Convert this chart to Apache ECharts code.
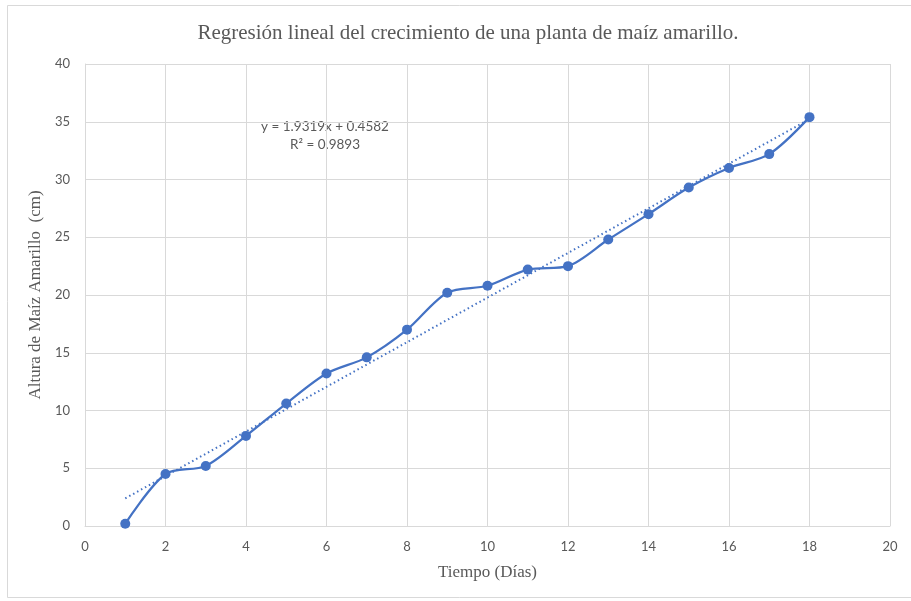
<!DOCTYPE html>
<html>
<head>
<meta charset="utf-8">
<script src="https://cdn.jsdelivr.net/npm/echarts@6/dist/echarts.min.js"></script>
<style>
html,body{margin:0;padding:0;background:#fff;}
#c{width:911px;height:601px;}
</style>
</head>
<body>
<div id="c"></div>
<script>
const dias = [1,2,3,4,5,6,7,8,9,10,11,12,13,14,15,16,17,18];
const altura = [0.2,4.5,5.2,7.8,10.6,13.2,14.6,17.0,20.2,20.8,22.2,22.5,24.8,27.0,29.3,31.0,32.2,35.4];
const trendX = [1,18];
const trendY = [2.39,35.23];
const titleText = 'Regresión lineal del crecimiento de una planta de maíz amarillo.';
const xName = 'Tiempo (Días)';
const yName = 'Altura de Maíz Amarillo  (cm)';
const eqLine1 = 'y = 1.9319x + 0.4582';
const eqLine2 = 'R² = 0.9893';

const chart = echarts.init(document.getElementById('c'));
const gray = '#595959';
const gridColor = '#d9d9d9';
const blue = '#4472C4';
chart.setOption({
  animation:false,
  backgroundColor:'#fff',
  title:{text:titleText,left:463,top:18,textAlign:'center',
    textStyle:{fontFamily:'Liberation Serif',fontSize:21,fontWeight:'normal',color:gray}},
  grid:{left:85,right:21,top:64,bottom:75},
  xAxis:{type:'value',min:0,max:20,interval:2,
    name:xName,nameLocation:'middle',nameGap:38,
    nameTextStyle:{fontFamily:'Liberation Serif',fontSize:17,color:gray},
    axisLine:{show:true,lineStyle:{color:gridColor}},axisTick:{show:false},
    axisLabel:{color:gray,fontFamily:'Lato',fontSize:13,margin:14},
    splitLine:{show:true,lineStyle:{color:gridColor,width:1}}},
  yAxis:{type:'value',min:0,max:40,interval:5,
    name:yName,nameLocation:'middle',nameGap:38,nameRotate:90,
    nameTextStyle:{fontFamily:'Liberation Serif',fontSize:17,color:gray},
    axisLine:{show:true,lineStyle:{color:gridColor}},axisTick:{show:false},
    axisLabel:{color:gray,fontFamily:'Lato',fontSize:13,margin:15},
    splitLine:{show:true,lineStyle:{color:gridColor,width:1}}},
  graphic:[
    {type:'rect',shape:{x:7.5,y:5.5,width:920,height:592},
     style:{fill:'none',stroke:gridColor,lineWidth:1},silent:true,z:-1},
    {type:'text',position:[325,127],style:{text:eqLine1,x:0,y:0,align:'center',verticalAlign:'middle',
      fill:gray,font:'13.5px Lato'}},
    {type:'text',position:[325,145],style:{text:eqLine2,x:0,y:0,align:'center',verticalAlign:'middle',
      fill:gray,font:'13.5px Lato'}}
  ],
  series:[
    {type:'line',data:trendX.map((x,i)=>[x,trendY[i]]),symbol:'none',
     lineStyle:{color:blue,width:2,type:[1.5,3]},z:1},
    {type:'line',data:dias.map((x,i)=>[x,altura[i]]),smooth:0.3,
     symbol:'circle',symbolSize:10,itemStyle:{color:blue},
     lineStyle:{color:blue,width:2.25},z:2}
  ]
});
</script>
</body>
</html>
